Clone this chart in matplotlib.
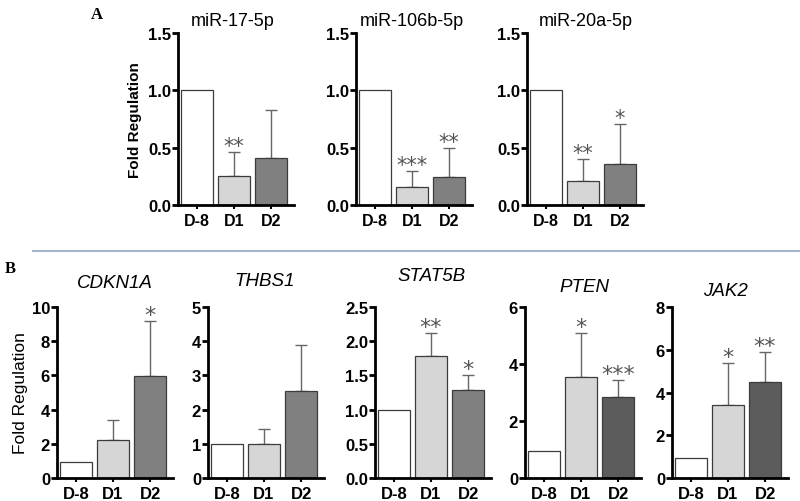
import matplotlib
matplotlib.use('Agg')
import matplotlib.pyplot as plt
from matplotlib.lines import Line2D

plt.rcParams['font.family'] = ['Liberation Sans', 'DejaVu Sans']

groups = ['D-8', 'D1', 'D2']

# panel A: miRNAs
mir_names = ['miR-17-5p', 'miR-106b-5p', 'miR-20a-5p']
mir_means = [[1.0, 0.25, 0.41], [1.0, 0.16, 0.24], [1.0, 0.21, 0.36]]
mir_sd = [[0.0, 0.21, 0.42], [0.0, 0.14, 0.26], [0.0, 0.19, 0.35]]
mir_stars = [['', '**', ''], ['', '***', '**'], ['', '**', '*']]
mir_ticks = [0.0, 0.5, 1.0, 1.5]

# panel B: target genes
gene_names = ['CDKN1A', 'THBS1', 'STAT5B', 'PTEN', 'JAK2']
gene_means = [[0.95, 2.2, 5.95], [1.0, 1.0, 2.55], [1.0, 1.79, 1.28],
              [0.95, 3.53, 2.83], [0.93, 3.4, 4.5]]
gene_sd = [[0.0, 1.17, 3.23], [0.0, 0.42, 1.33], [0.0, 0.33, 0.23],
           [0.0, 1.57, 0.61], [0.0, 1.97, 1.4]]
gene_stars = [['', '', '*'], ['', '', ''], ['', '**', '*'],
              ['', '*', '***'], ['', '*', '**']]
gene_ticks = [[0, 2, 4, 6, 8, 10], [0, 1, 2, 3, 4, 5],
              [0.0, 0.5, 1.0, 1.5, 2.0, 2.5], [0, 2, 4, 6], [0, 2, 4, 6, 8]]

W, H = 800, 502
fig = plt.figure(figsize=(8, 5.02), dpi=100)
fig.patch.set_facecolor('white')


def make_axes(x0, y_zero, y_top):
    # pixel layout -> figure fraction
    return fig.add_axes([x0 / W, 1 - y_zero / H, 116 / W, (y_zero - y_top) / H])


def draw(ax, means, sd, stars, ticks, colors, fmt, star_size, ysize, xsize):
    x = range(len(groups))
    ax.bar(x, means, width=0.88, color=colors, edgecolor='#3c3c3c', linewidth=0.9, zorder=2)
    for i in x:
        if sd[i] > 0:
            ax.errorbar(i, means[i], yerr=[[0], [sd[i]]], color='#666666',
                        capsize=4, elinewidth=1, capthick=1, zorder=1)
        if stars[i]:
            ax.annotate(stars[i], (i, means[i] + sd[i]), xytext=(0, -3),
                        textcoords='offset points', ha='center', va='bottom',
                        fontsize=star_size, color='#555555', family='DejaVu Sans')
    ax.set_xlim(-0.51, 2.62)
    ax.set_ylim(ticks[0], ticks[-1])
    ax.set_yticks(ticks)
    ax.set_yticklabels([fmt.format(t) for t in ticks], fontweight='bold')
    ax.set_xticks(list(x))
    ax.set_xticklabels(groups, fontweight='bold')
    for s in ['top', 'right']:
        ax.spines[s].set_visible(False)
    for s in ['left', 'bottom']:
        ax.spines[s].set_linewidth(2)
    ax.tick_params(axis='y', width=2, length=4, labelsize=ysize, pad=1)
    ax.tick_params(axis='x', width=1.5, length=3, labelsize=xsize, pad=3)
    ax.set_facecolor('none')


# panel A
a_x0 = [178, 356, 527]
a_title_x = [233, 412, 586]
for k in range(3):
    ax = make_axes(a_x0[k], 206, 34)
    draw(ax, mir_means[k], mir_sd[k], mir_stars[k], mir_ticks,
         ['white', '#d6d6d6', '#808080'], '{:.1f}', 15, 12, 11.5)
    fig.text(a_title_x[k] / W, 1 - 22 / H, mir_names[k], ha='center', va='center', fontsize=13)
    if k == 0:
        ax.set_ylabel('Fold Regulation', fontweight='bold', fontsize=11, labelpad=4)

# panel B
b_x0 = [57, 208, 375, 525, 672]
b_title_x = [115, 264, 432, 584, 725]
b_title_y = [283, 282, 277, 287, 292]
b_dark = ['#808080', '#808080', '#808080', '#5c5c5c', '#5c5c5c']
for k in range(5):
    ax = make_axes(b_x0[k], 479, 308)
    fmt = '{:.1f}' if k == 2 else '{:d}'
    draw(ax, gene_means[k], gene_sd[k], gene_stars[k], gene_ticks[k],
         ['white', '#d6d6d6', b_dark[k]], fmt, 16, 12, 12)
    fig.text(b_title_x[k] / W, 1 - b_title_y[k] / H, gene_names[k], ha='center', va='center',
             fontsize=13.5, style='italic')
    if k == 0:
        ax.set_ylabel('Fold Regulation', fontsize=12.5, labelpad=3)

# panel letters and separator
fig.text(97 / W, 1 - 15 / H, 'A', fontsize=12, fontweight='bold', family='Liberation Serif',
         ha='center', va='center')
fig.text(10 / W, 1 - 269 / H, 'B', fontsize=12, fontweight='bold', family='Liberation Serif',
         ha='center', va='center')
fig.add_artist(Line2D([33 / W, 1.0], [1 - 252 / H, 1 - 252 / H], color='#a3b5cf', linewidth=1.5))

plt.savefig('out.png', dpi=100)
